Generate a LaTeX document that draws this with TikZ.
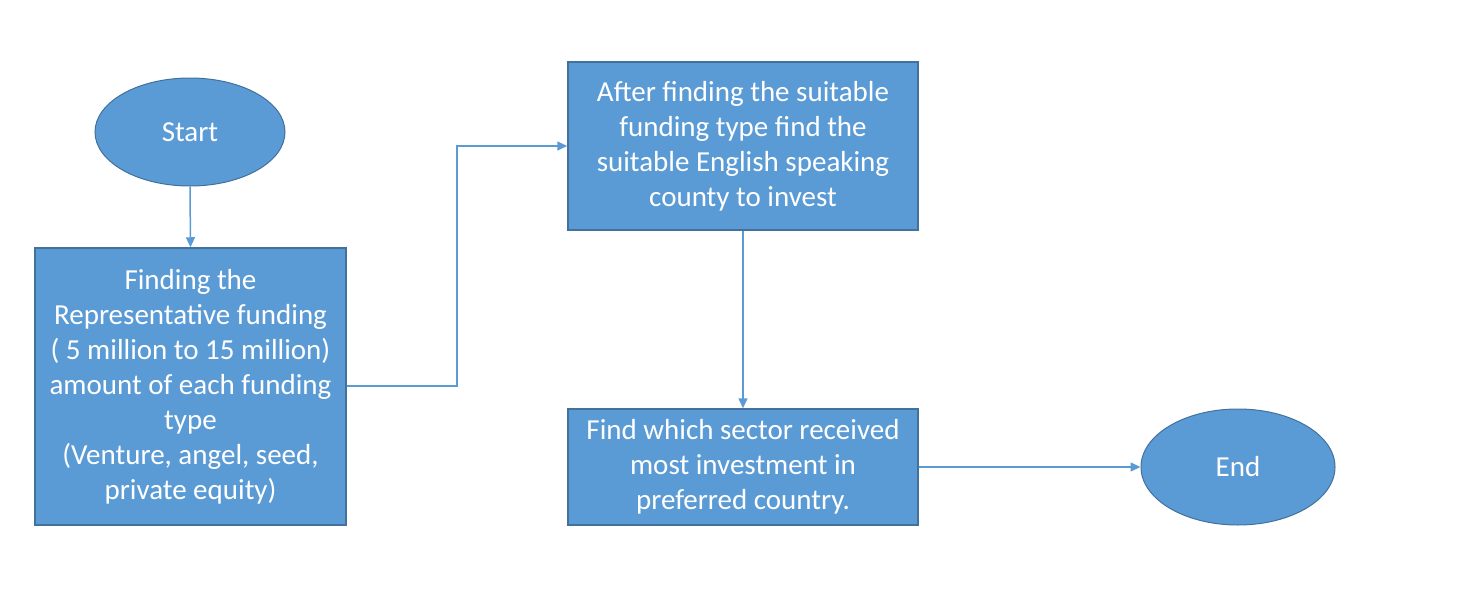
\documentclass[tikz,border=0pt]{standalone}
\usepackage{fontspec}
\setmainfont{Carlito}
\usetikzlibrary{shapes.geometric,arrows.meta}
\definecolor{boxfill}{HTML}{5B9BD5}
\definecolor{boxedge}{HTML}{41719C}
\tikzset{
  stepbox/.style={draw=boxedge, fill=boxfill, line width=1.5pt, text=white, align=center, inner sep=0pt,
    font=\fontsize{29}{35}\selectfont},
  term/.style={ellipse, draw=boxedge, fill=boxfill, line width=1pt, text=white, inner sep=0pt,
    font=\fontsize{29}{35}\selectfont},
  conn/.style={draw=boxfill, line width=1.5pt, -{Triangle[length=10pt,width=9pt]}}
}
\begin{document}
\begin{tikzpicture}[x=1pt,y=-1pt]
\useasboundingbox (0,0) rectangle (1484,613);
\node[term, minimum width=190pt, minimum height=108pt] (start) at (190,132) {Start};
\node[stepbox, minimum width=311pt, minimum height=277pt] (b1) at (190.5,386.5) {Finding the\\Representative funding\\( 5 million to 15 million)\\amount of each funding\\type\\(Venture, angel, seed,\\private equity)};
\node[stepbox, minimum width=350pt, minimum height=168pt] (b2) at (743,146) {After finding the suitable\\funding type find the\\suitable English speaking\\county to invest};
\node[stepbox, minimum width=350pt, minimum height=116pt] (b3) at (743,467) {Find which sector received\\most investment in\\preferred country.};
\node[term, minimum width=194pt, minimum height=116pt] (end) at (1238,467) {End};
\coordinate (mid) at (457,386);
\draw[conn] (start.south) -- (b1.north);
\draw[conn] (b1.east |- mid) -- (mid) |- (b2.west);
\draw[conn] (b2.south) -- (b3.north);
\draw[conn] (b3.east) -- (end.west);
\end{tikzpicture}
\end{document}
